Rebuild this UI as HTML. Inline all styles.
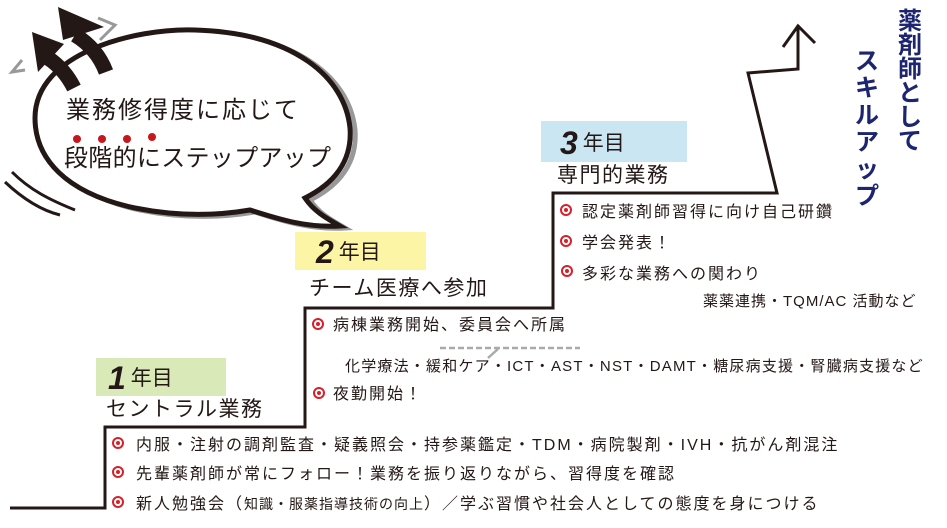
<!DOCTYPE html>
<html><head><meta charset="utf-8"><style>
body{margin:0;width:947px;height:528px;background:#fff;position:relative;overflow:hidden;font-family:"Liberation Sans","Noto Sans CJK JP",sans-serif;color:#231815}
.a{position:absolute;white-space:nowrap;line-height:1}
.t{font-size:16px;letter-spacing:2px}
.h{font-size:21px;letter-spacing:1.5px}
.yr{font-size:21px}
.num{font-size:32px;font-weight:bold;font-style:italic;margin-right:5px;vertical-align:-4px}
.ic{position:absolute;width:8px;height:8px;border:2.5px solid #d7202a;border-radius:50%}
.ic::after{content:"";position:absolute;left:2px;top:2px;width:4px;height:4px;background:#d7202a;border-radius:50%}
</style></head><body>
<svg width="947" height="528" style="position:absolute;left:0;top:0">
<polyline points="10,508 105,508 105,427 305,427 305,308 553,308 553,193 777,193 748,73 798,69 798,25" fill="none" stroke="#231815" stroke-width="3"/>
<polyline points="783,47 798,26 815,43" fill="none" stroke="#231815" stroke-width="3"/>
<line x1="440" y1="348" x2="580" y2="348" stroke="#aaa" stroke-width="2.5" stroke-dasharray="6,3"/>
<line x1="488" y1="358" x2="498" y2="349" stroke="#aaa" stroke-width="2.5"/>
<!-- bubble shadow -->
<path d="M40,120 C40,55 140,30 200,32 C300,35 350,80 355,130 C358,170 330,190 310,200 C320,215 335,222 345,228 C310,230 280,220 255,212 C220,218 180,218 140,210 C70,195 40,160 40,120 Z" fill="none" stroke="#999" stroke-width="5"/>
<path d="M35,118 C35,53 135,28 195,30 C295,33 345,78 350,128 C353,168 325,188 305,198 C315,213 330,220 340,226 C305,228 275,218 250,210 C215,216 175,216 135,208 C65,193 35,158 35,118 Z" fill="#fff" stroke="#231815" stroke-width="5"/>
<!-- arrows -->
<path d="M100,40 L115,25 L98,18" fill="none" stroke="#999" stroke-width="3"/>
<path d="M25,70 L12,72 L22,60" fill="none" stroke="#999" stroke-width="3"/>
<path d="M48,58 C60,66 68,76 74,88" fill="none" stroke="#231815" stroke-width="15"/>
<polygon points="32,32 64,44 38,72" fill="#231815"/>
<path d="M75,35 C90,44 100,56 106,72" fill="none" stroke="#231815" stroke-width="15"/>
<polygon points="58,7 104,27 63,40" fill="#231815"/>
<path d="M12,172 C30,190 50,200 75,210" fill="none" stroke="#231815" stroke-width="3"/>
<path d="M5,182 C22,198 40,210 60,215" fill="none" stroke="#231815" stroke-width="3"/>
<circle cx="77" cy="139" r="4" fill="#c8161d"/><circle cx="102" cy="139" r="4" fill="#c8161d"/><circle cx="127" cy="139" r="4" fill="#c8161d"/><circle cx="152" cy="137" r="4" fill="#c8161d"/>
</svg>
<div class="a" style="left:66px;top:99px;font-size:24px;letter-spacing:2px">業務修得度に応じて</div>
<div class="a" style="left:64px;top:147px;font-size:24px;letter-spacing:0.3px">段階的にステップアップ</div>

<div class="a" style="left:96px;top:358px;width:130px;height:38px;background:#d9e9b8"></div>
<div class="a yr" style="left:108px;top:362px"><span class="num">1</span>年目</div>
<div class="a h" style="left:106px;top:399px">セントラル業務</div>

<div class="a" style="left:295px;top:232px;width:131px;height:38px;background:#fbf5a5"></div>
<div class="a yr" style="left:316px;top:236px"><span class="num">2</span>年目</div>
<div class="a h" style="left:309px;top:278px">チーム医療へ参加</div>

<div class="a" style="left:541px;top:121px;width:146px;height:41px;background:#cbe6f3"></div>
<div class="a yr" style="left:560px;top:127px"><span class="num">3</span>年目</div>
<div class="a h" style="left:557px;top:165px">専門的業務</div>

<div class="a" style="left:898px;top:10px;width:26px;font-size:24px;font-weight:bold;color:#1d2570;line-height:24px;white-space:normal">薬剤師として</div>
<div class="a" style="left:855px;top:48px;width:26px;font-size:24px;font-weight:bold;color:#1d2570;line-height:27px;white-space:normal">スキルアップ</div>

<div class="ic" style="left:112px;top:437px"></div><div class="a t" style="left:136px;top:438px">内服・注射の調剤監査・疑義照会・持参薬鑑定・TDM・病院製剤・IVH・抗がん剤混注</div>
<div class="ic" style="left:112px;top:466px"></div><div class="a t" style="left:136px;top:467px">先輩薬剤師が常にフォロー！業務を振り返りながら、習得度を確認</div>
<div class="ic" style="left:112px;top:496px"></div><div class="a t" style="left:136px;top:497px">新人勉強会（<span style="font-size:14px;letter-spacing:1px">知識・服薬指導技術の向上</span>）／学ぶ習慣や社会人としての態度を身につける</div>

<div class="ic" style="left:312px;top:318px"></div><div class="a t" style="left:333px;top:318px">病棟業務開始、委員会へ所属</div>
<div class="a" style="left:345px;top:359px;font-size:15px;letter-spacing:1.2px">化学療法・緩和ケア・ICT・AST・NST・DAMT・糖尿病支援・腎臓病支援など</div>
<div class="ic" style="left:313px;top:387px"></div><div class="a t" style="left:333px;top:387px">夜勤開始！</div>

<div class="ic" style="left:560px;top:204px"></div><div class="a t" style="left:582px;top:205px">認定薬剤師習得に向け自己研鑽</div>
<div class="ic" style="left:560px;top:235px"></div><div class="a t" style="left:582px;top:236px">学会発表！</div>
<div class="ic" style="left:561px;top:265px"></div><div class="a t" style="left:582px;top:267px">多彩な業務への関わり</div>
<div class="a" style="left:703px;top:294px;font-size:15px;letter-spacing:1px">薬薬連携・TQM/AC 活動など</div>
</body></html>
